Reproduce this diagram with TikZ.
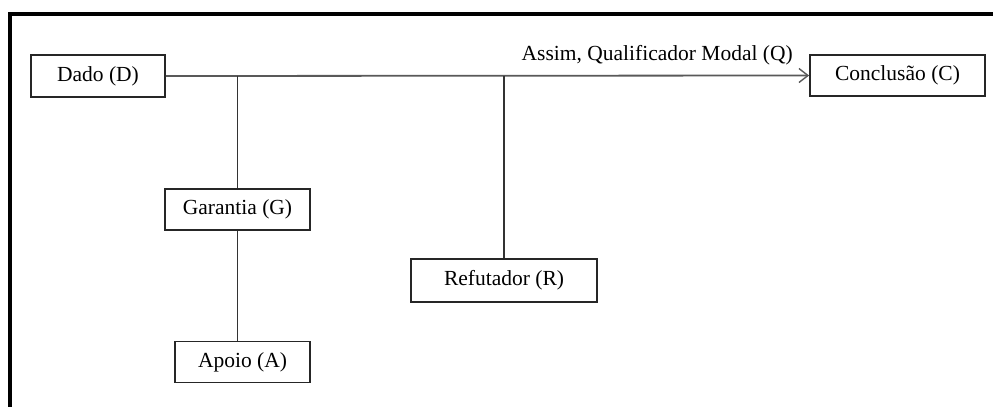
\documentclass[tikz,border=0pt]{standalone}
\usepackage{fontspec}
\setmainfont{Liberation Serif}
\usetikzlibrary{arrows.meta}
\begin{document}
\begin{tikzpicture}[x=1pt,y=-1pt,
  box/.style={draw=black!85, line width=1.8pt, fill=white, inner sep=0pt,
    font=\fontsize{21.5}{25}\selectfont},
  link/.style={draw=black!80, line width=1.6pt},
  frame/.style={draw=black, line width=3.2pt}]
  \useasboundingbox (0,0) rectangle (993,407);
  % outer frame, open to the right and bottom
  \draw[frame] (993,14) -- (10,14) -- (10,407);
  % elements of the argument
  \node[box, minimum width=134pt, minimum height=42pt] (D) at (98,76) {Dado (D)};
  \node[box, minimum width=175pt, minimum height=41pt] (C) at (897.5,75.5) {Conclusão (C)};
  \node[box, minimum width=145pt, minimum height=41pt] (G) at (237.5,209.5) {Garantia (G)};
  \node[box, minimum width=135pt, minimum height=41pt] (A) at (242.5,362) {Apoio (A)};
  \node[box, minimum width=186pt, minimum height=43pt] (R) at (504,280.5) {Refutador (R)};
  \node[anchor=base east, inner sep=0pt, font=\fontsize{21.5}{25}\selectfont] (Q) at (793,60.5) {Assim, Qualificador Modal (Q)};
  % connectors
  \draw[link, draw=black!65, line width=1.8pt, -{Straight Barb[length=9pt,width=14pt,line width=1.4pt]}] (D.east) -- (C.west);
  \draw[link] (G.north) -- (G.north |- D.east);
  \draw[link] (G.south) -- (G.south |- A.north);
  \draw[link] (R.north) -- (R.north |- D.east);
\end{tikzpicture}
\end{document}
